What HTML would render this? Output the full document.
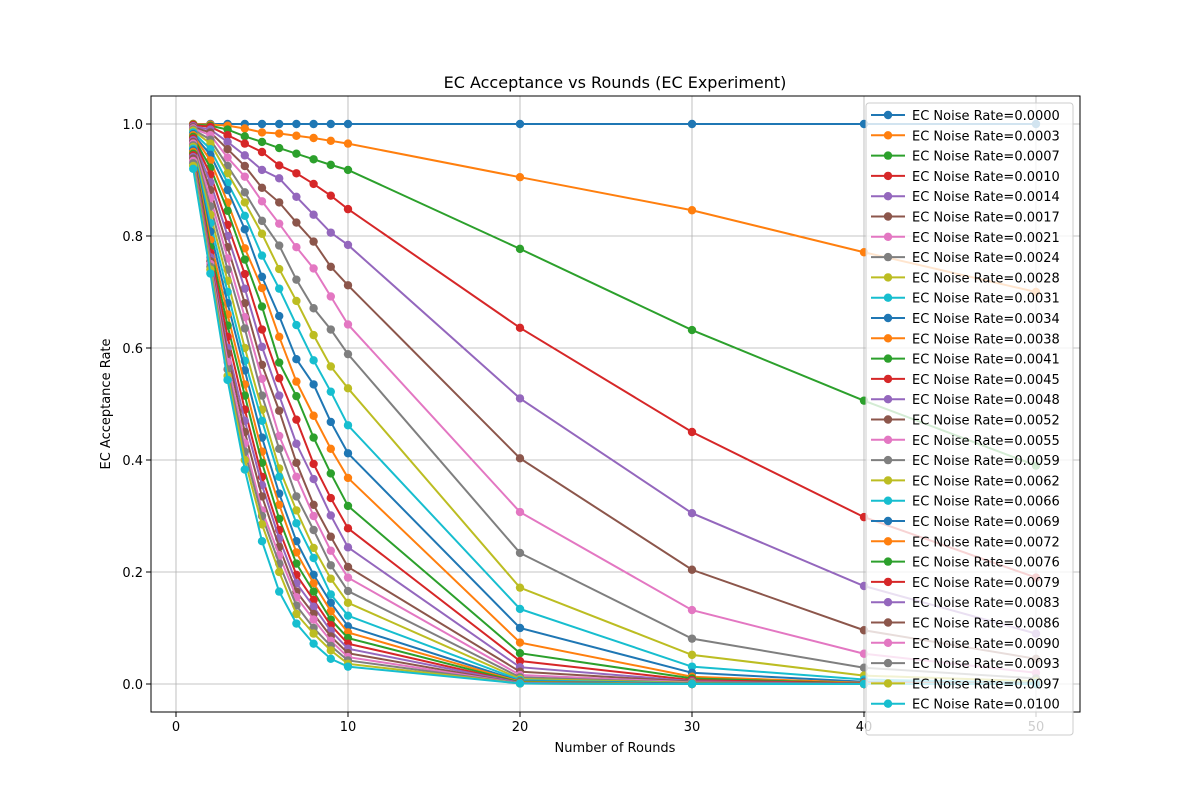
<!DOCTYPE html>
<html><head><meta charset="utf-8"><style>
body{margin:0;background:#fff;}
svg{display:block;font-family:"DejaVu Sans","Liberation Sans",sans-serif;}
</style></head><body>
<svg id="chart" width="1200" height="800" viewBox="0 0 1200 800" xmlns="http://www.w3.org/2000/svg"></svg>
<script>
const rounds = [1,2,3,4,5,6,7,8,9,10,20,30,40,50];
const noiseLabels = ["0.0000","0.0003","0.0007","0.0010","0.0014","0.0017","0.0021","0.0024","0.0028","0.0031","0.0034","0.0038","0.0041","0.0045","0.0048","0.0052","0.0055","0.0059","0.0062","0.0066","0.0069","0.0072","0.0076","0.0079","0.0083","0.0086","0.0090","0.0093","0.0097","0.0100"];
const s00=[1,1,1,1,1,1,1,1,1,1,1,1,1,1];
const s01=[1.0,0.999,0.997,0.992,0.985,0.983,0.979,0.975,0.970,0.965,0.905,0.846,0.771,0.700];
const s02=[0.999,0.997,0.990,0.978,0.968,0.957,0.947,0.937,0.927,0.918,0.777,0.632,0.506,0.390];
const s03=[0.998,0.995,0.980,0.965,0.950,0.926,0.912,0.893,0.872,0.848,0.636,0.450,0.298,0.190];
const s04=[0.996,0.990,0.968,0.944,0.918,0.903,0.870,0.838,0.806,0.784,0.510,0.305,0.175,0.090];
const s05=[0.994,0.985,0.955,0.925,0.886,0.860,0.824,0.790,0.745,0.712,0.403,0.204,0.096,0.045];
const s06=[0.992,0.980,0.940,0.906,0.862,0.822,0.780,0.742,0.692,0.642,0.307,0.132,0.054,0.020];
const s07=[0.990,0.972,0.925,0.878,0.827,0.783,0.722,0.671,0.633,0.589,0.234,0.081,0.029,0.010];
const s08=[0.988,0.965,0.912,0.860,0.804,0.741,0.684,0.623,0.567,0.528,0.172,0.052,0.015,0.005];
const s09=[0.985,0.955,0.895,0.836,0.765,0.706,0.641,0.578,0.522,0.462,0.134,0.031,0.008,0.002];
const s10=[0.982,0.945,0.882,0.812,0.727,0.657,0.580,0.535,0.468,0.412,0.100,0.020,0.004,0.001];
const s11=[0.980,0.935,0.860,0.778,0.707,0.620,0.540,0.479,0.420,0.368,0.074,0.013,0.002,0.0];
const s12=[0.977,0.922,0.845,0.758,0.674,0.574,0.514,0.440,0.376,0.318,0.055,0.010,0.001,0.0];
const s13=[0.974,0.910,0.820,0.732,0.633,0.546,0.472,0.393,0.332,0.278,0.041,0.007,0.001,0.0];
const s14=[0.971,0.896,0.800,0.706,0.602,0.515,0.429,0.366,0.301,0.244,0.030,0.005,0.0,0.0];
const s15=[0.968,0.882,0.780,0.680,0.570,0.488,0.395,0.320,0.263,0.209,0.022,0.004,0.0,0.0];
const s16=[0.965,0.868,0.760,0.655,0.545,0.443,0.370,0.300,0.238,0.190,0.016,0.003,0.0,0.0];
const s17=[0.962,0.853,0.740,0.635,0.515,0.420,0.335,0.275,0.212,0.166,0.012,0.002,0.0,0.0];
const s18=[0.959,0.838,0.720,0.600,0.490,0.385,0.310,0.243,0.188,0.145,0.009,0.002,0.0,0.0];
const s19=[0.956,0.823,0.700,0.577,0.470,0.370,0.287,0.225,0.160,0.122,0.007,0.001,0.0,0.0];
const s20=[0.953,0.808,0.680,0.560,0.440,0.340,0.255,0.195,0.145,0.103,0.005,0.001,0.0,0.0];
const s21=[0.950,0.793,0.660,0.535,0.415,0.320,0.235,0.180,0.130,0.092,0.004,0.0,0.0,0.0];
const s22=[0.947,0.780,0.640,0.515,0.395,0.295,0.215,0.165,0.115,0.082,0.003,0.0,0.0,0.0];
const s23=[0.944,0.770,0.620,0.490,0.370,0.275,0.195,0.150,0.105,0.072,0.002,0.0,0.0,0.0];
const s24=[0.941,0.762,0.600,0.470,0.355,0.260,0.180,0.138,0.095,0.063,0.002,0.0,0.0,0.0];
const s25=[0.938,0.755,0.590,0.450,0.335,0.245,0.165,0.125,0.085,0.055,0.001,0.0,0.0,0.0];
const s26=[0.934,0.750,0.575,0.430,0.310,0.230,0.155,0.115,0.077,0.048,0.001,0.0,0.0,0.0];
const s27=[0.930,0.745,0.562,0.415,0.300,0.215,0.140,0.100,0.068,0.042,0.001,0.0,0.0,0.0];
const s28=[0.925,0.740,0.550,0.400,0.285,0.200,0.125,0.090,0.060,0.036,0.001,0.0,0.0,0.0];
const s29=[0.920,0.733,0.543,0.383,0.255,0.165,0.108,0.072,0.045,0.031,0.001,0.0,0.0,0.0];
const series=[s00,s01,s02,s03,s04,s05,s06,s07,s08,s09,s10,s11,s12,s13,s14,s15,s16,s17,s18,s19,s20,s21,s22,s23,s24,s25,s26,s27,s28,s29];
const xTicks=[0,10,20,30,40,50];
const yTicks=[0.0,0.2,0.4,0.6,0.8,1.0];

const colors=["#1f77b4","#ff7f0e","#2ca02c","#d62728","#9467bd","#8c564b","#e377c2","#7f7f7f","#bcbd22","#17becf"];
const L=151,R=1080,T=96,B=712;
const X=v=>176+v*17.2;
const Y=v=>684-v*560;
const svg=document.getElementById('chart');
const NS="http://www.w3.org/2000/svg";
function mk(tag,attrs,parent){const e=document.createElementNS(NS,tag);for(const k in attrs)e.setAttribute(k,attrs[k]);(parent||svg).appendChild(e);return e;}

const grid=mk('g',{});


xTicks.forEach(t=>{mk('line',{x1:X(t),x2:X(t),y1:T,y2:B,stroke:'#b0b0b0','stroke-width':0.8},grid);});
yTicks.forEach(t=>{mk('line',{x1:L,x2:R,y1:Y(t),y2:Y(t),stroke:'#b0b0b0','stroke-width':0.8},grid);});

const plot=mk('g',{});


series.forEach((s,i)=>{
  const g=mk('g',{},plot);
  
  
  const c=colors[i%10];
  mk('polyline',{points:s.map((v,j)=>X(rounds[j])+','+Y(v)).join(' '),fill:'none',stroke:c,'stroke-width':2},g);
  s.forEach((v,j)=>{
    const p=mk('circle',{cx:X(rounds[j]),cy:Y(v),r:4.2,fill:c},g);
    
    
  });
});

const frame=mk('rect',{x:L,y:T,width:R-L,height:B-T,fill:'none',stroke:'#000','stroke-width':1});



const xa=mk('g',{});


xTicks.forEach(t=>{
  mk('line',{x1:X(t),x2:X(t),y1:B,y2:B+5,stroke:'#000'},xa);
  const tx=mk('text',{x:X(t),y:B+19,'font-size':13,'text-anchor':'middle'},xa);tx.textContent=t;
});
const ya=mk('g',{});


yTicks.forEach(t=>{
  mk('line',{x1:L-5,x2:L,y1:Y(t),y2:Y(t),stroke:'#000'},ya);
  const tx=mk('text',{x:L-8,y:Y(t)+5,'font-size':13,'text-anchor':'end'},ya);tx.textContent=t.toFixed(1);
});
const xt=mk('text',{x:615,y:752,'font-size':13,'text-anchor':'middle'});xt.textContent='Number of Rounds';


const yt=mk('text',{x:110,y:404,'font-size':13,'text-anchor':'middle',transform:'rotate(-90 110 404)'});yt.textContent='EC Acceptance Rate';


const tt=mk('text',{x:615,y:88,'font-size':16,'text-anchor':'middle'});tt.textContent='EC Acceptance vs Rounds (EC Experiment)';



const lg=mk('g',{});


mk('rect',{x:866,y:103,width:207,height:632,rx:3,fill:'#fff','fill-opacity':0.8,stroke:'#ccc'},lg);
noiseLabels.forEach((n,i)=>{
  const e=mk('g',{},lg);
  
  
  const y=115+i*20.3,c=colors[i%10];
  mk('line',{x1:871,x2:905,y1:y,y2:y,stroke:c,'stroke-width':2},e);
  mk('circle',{cx:888,cy:y,r:4.2,fill:c},e);
  const t=mk('text',{x:912,y:y+5,'font-size':13},e);t.textContent='EC Noise Rate='+n;
});
</script>
</body></html>
